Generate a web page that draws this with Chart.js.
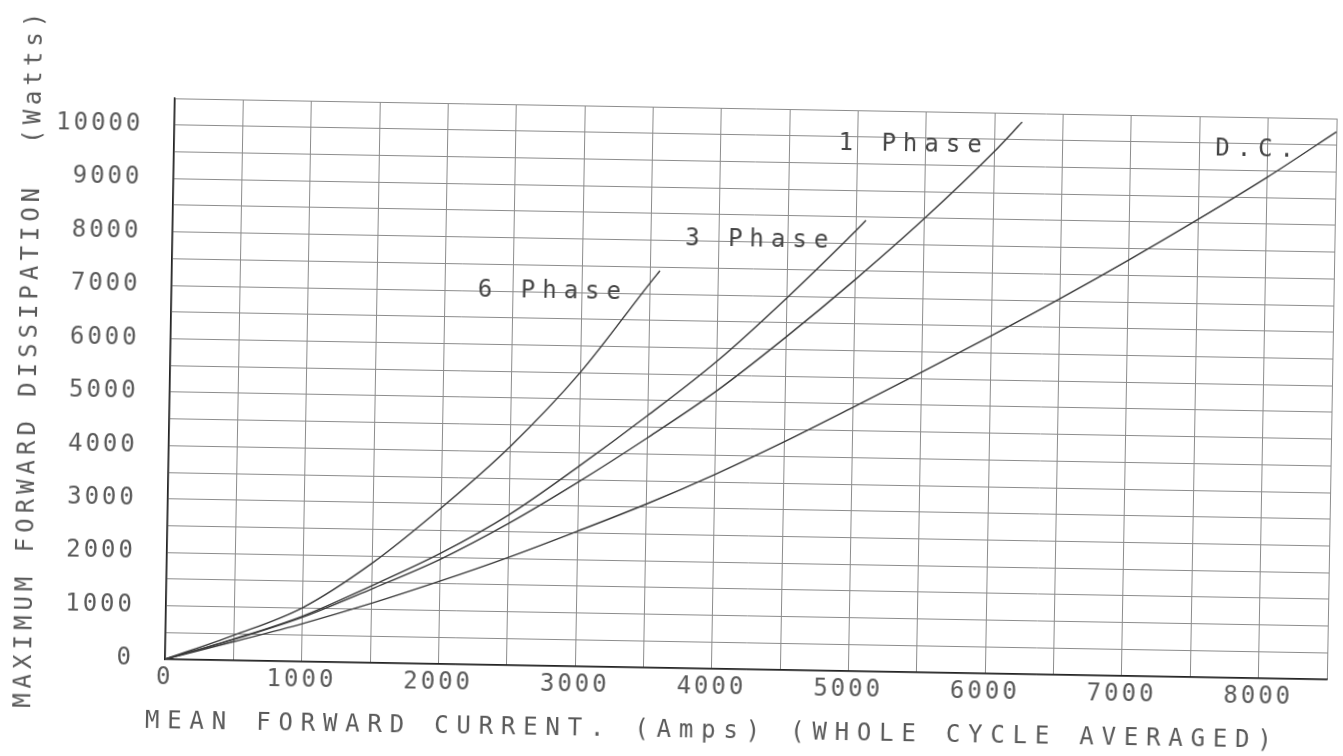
<!DOCTYPE html>
<html>
<head>
<meta charset="utf-8">
<title>Maximum forward dissipation</title>
<script src="https://cdn.jsdelivr.net/npm/chart.js@4.4.1/dist/chart.umd.min.js"></script>
<style>
  html, body { margin: 0; padding: 0; background: #fff; overflow: hidden; }
  /* the original is a slightly skewed scan of a plotter sheet */
  #wrap { width: 1343px; height: 756px; transform: rotate(1deg); }
</style>
</head>
<body>
<div id="wrap"><canvas id="chart"></canvas></div>
<script>
// Mean forward current (A) vs max forward dissipation (W)
const dcAmps = [0, 500, 1000, 1500, 2000, 2500, 3000, 3500, 4000, 4500, 5000, 5500, 6000, 6500, 7000, 7500, 8000, 8500];
const dcWatts = [0, 350, 710, 1110, 1550, 2020, 2530, 3060, 3640, 4270, 4940, 5620, 6320, 7040, 7790, 8570, 9380, 10250];

const onePhaseAmps = [0, 500, 1000, 1500, 2000, 2500, 3000, 3500, 4000, 4500, 5000, 5500, 6000, 6200];
const onePhaseWatts = [0, 390, 830, 1380, 1960, 2660, 3450, 4300, 5200, 6230, 7330, 8500, 9770, 10330];

const threePhaseAmps = [0, 500, 1000, 1500, 2000, 2500, 3000, 3500, 4000, 4500, 5000, 5070];
const threePhaseWatts = [0, 400, 850, 1440, 2070, 2820, 3740, 4720, 5760, 6960, 8250, 8440];

const sixPhaseAmps = [0, 500, 1000, 1500, 2000, 2500, 3000, 3500, 3570];
const sixPhaseWatts = [0, 470, 1010, 1860, 2920, 4100, 5500, 7200, 7430];

const curveNames = ["D.C.", "1 Phase", "3 Phase", "6 Phase"];

const xTickLabels = [0, 1000, 2000, 3000, 4000, 5000, 6000, 7000, 8000];
const yTickLabels = [0, 1000, 2000, 3000, 4000, 5000, 6000, 7000, 8000, 9000, 10000];

const xTitle = "MEAN FORWARD CURRENT. (Amps) (WHOLE CYCLE AVERAGED)";
const yTitle = "MAXIMUM FORWARD DISSIPATION  (Watts)";

// where each curve name is written on the sheet (amps, watts)
const nameSpots = [[7930, 9880], [5410, 9870], [4300, 8040], [2790, 7000]];

const plotFont = '"DejaVu Sans Mono", "Liberation Mono", monospace';
const inkText = "#5a5a5a";
const inkLine = "#3a3a3a";

function curve(amps, watts) {
  return {
    data: amps.map((a, i) => ({ x: a, y: watts[i] })),
    showLine: true,
    borderColor: inkLine,
    borderWidth: 1.4,
    pointRadius: 0,
    cubicInterpolationMode: "monotone"
  };
}

// plotter lettering is widely spaced; canvas letterSpacing does that
const plotterText = {
  id: "plotterText",
  beforeDraw(chart) {
    chart.ctx.letterSpacing = "3px"; // tick labels
  },
  afterDraw(chart) {
    const { ctx, scales, chartArea } = chart;
    ctx.save();
    ctx.font = "24px " + plotFont;
    ctx.textBaseline = "middle";

    // curve names
    ctx.letterSpacing = "7px";
    ctx.fillStyle = "#444";
    ctx.textAlign = "center";
    curveNames.forEach((name, i) => {
      ctx.fillText(name,
        scales.x.getPixelForValue(nameSpots[i][0]),
        scales.y.getPixelForValue(nameSpots[i][1]));
    });

    // axis titles
    ctx.fillStyle = inkText;
    ctx.letterSpacing = "7.8px";
    ctx.textAlign = "left";
    ctx.fillText(xTitle, chartArea.left - 19, chartArea.bottom + 63);

    ctx.letterSpacing = "5px";
    ctx.textAlign = "center";
    ctx.translate(chartArea.left - 140, chartArea.top + 262);
    ctx.rotate(-Math.PI / 2);
    ctx.fillText(yTitle, 0, 0);
    ctx.restore();
    ctx.letterSpacing = "0px";
  }
};

new Chart(document.getElementById("chart"), {
  type: "scatter",
  data: {
    datasets: [
      curve(dcAmps, dcWatts),
      curve(onePhaseAmps, onePhaseWatts),
      curve(threePhaseAmps, threePhaseWatts),
      curve(sixPhaseAmps, sixPhaseWatts)
    ]
  },
  options: {
    responsive: true,
    maintainAspectRatio: false,
    animation: false,
    layout: { padding: { top: 107, right: 11, left: 0, bottom: 0 } },
    plugins: {
      legend: { display: false },
      tooltip: { enabled: false }
    },
    scales: {
      x: {
        type: "linear",
        min: 0,
        max: 8500,
        afterFit: (s) => { s.height = 88; },
        grid: { color: "#8c8c8c", lineWidth: 1, drawTicks: false },
        border: { color: "#222", width: 1.5 },
        ticks: {
          stepSize: 500,
          padding: 4,
          maxRotation: 0,
          autoSkip: false,
          color: inkText,
          font: { family: plotFont, size: 24 },
          callback: (v) => xTickLabels.includes(v) ? String(v) : ""
        }
      },
      y: {
        type: "linear",
        min: 0,
        max: 10500,
        afterFit: (s) => { s.width = 170; },
        grid: { color: "#8c8c8c", lineWidth: 1, drawTicks: false },
        border: { color: "#222", width: 1.5 },
        ticks: {
          stepSize: 500,
          padding: 31,
          autoSkip: false,
          color: inkText,
          font: { family: plotFont, size: 24 },
          callback: (v) => yTickLabels.includes(v) ? String(v) : ""
        }
      }
    }
  },
  plugins: [plotterText]
});
</script>
</body>
</html>
